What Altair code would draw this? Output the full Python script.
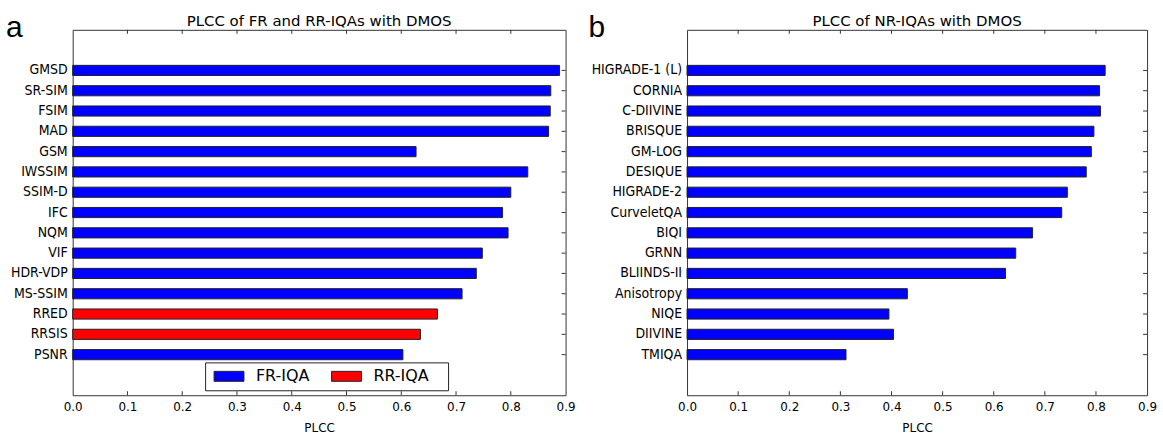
import altair as alt
import pandas as pd

fr_names = ["GMSD", "SR-SIM", "FSIM", "MAD", "GSM", "IWSSIM", "SSIM-D", "IFC",
            "NQM", "VIF", "HDR-VDP", "MS-SSIM", "RRED", "RRSIS", "PSNR"]
fr_vals = [0.889, 0.873, 0.872, 0.869, 0.627, 0.831, 0.800, 0.785,
           0.795, 0.748, 0.737, 0.711, 0.666, 0.635, 0.603]
fr_types = ["FR-IQA", "FR-IQA", "FR-IQA", "FR-IQA", "FR-IQA", "FR-IQA", "FR-IQA", "FR-IQA",
            "FR-IQA", "FR-IQA", "FR-IQA", "FR-IQA", "RR-IQA", "RR-IQA", "FR-IQA"]

nr_names = ["HIGRADE-1 (L)", "CORNIA", "C-DIIVINE", "BRISQUE", "GM-LOG", "DESIQUE",
            "HIGRADE-2", "CurveletQA", "BIQI", "GRNN", "BLIINDS-II", "Anisotropy",
            "NIQE", "DIIVINE", "TMIQA"]
nr_vals = [0.818, 0.807, 0.809, 0.796, 0.791, 0.781, 0.744, 0.733, 0.676,
           0.643, 0.623, 0.431, 0.395, 0.404, 0.311]

x_ticks = [0.0, 0.1, 0.2, 0.3, 0.4, 0.5, 0.6, 0.7, 0.8, 0.9]
inner_ticks = [0.1, 0.2, 0.3, 0.4, 0.5, 0.6, 0.7, 0.8]

H = 367
W1 = 495
W2 = 462
TICK_COLOR = "#333333"
LABEL_FONT = "Liberation Sans Narrow, DejaVu Sans Condensed, Liberation Sans"


def panel(names, vals, types, title, letter, width, letter_x, legend):
    n = len(names)
    df = pd.DataFrame({"name": names, "PLCC": vals, "type": types,
                       "pos": list(range(n))})
    df["lo"] = df["pos"] - 0.25
    df["hi"] = df["pos"] + 0.25
    tdf = pd.DataFrame({"t": inner_ticks})
    xscale = alt.Scale(domain=[0, 0.9], nice=False, zero=True)
    yscale = alt.Scale(domain=[-2, n + 1], nice=False, zero=False, reverse=True)
    xaxis = alt.Axis(values=x_ticks, format=".1f", ticks=False, domain=False, grid=False,
                     labelFont="DejaVu Sans", labelFontSize=12, labelColor="black",
                     labelPadding=6, labelFlush=False, title="PLCC", titleFont="DejaVu Sans",
                     titleFontSize=12, titleFontWeight="normal", titleColor="black",
                     titlePadding=10)
    if legend:
        color = alt.Color("type:N",
                          scale=alt.Scale(domain=["FR-IQA", "RR-IQA"], range=["#0000ff", "#ff0000"]),
                          legend=alt.Legend(orient="none", legendX=133, legendY=334,
                                            direction="horizontal",
                                            title="\u00a0", titleOrient="right",
                                            titlePadding=13, titleFontSize=8,
                                            titleColor="white",
                                            strokeColor="#222222", fillColor="white",
                                            padding=6, cornerRadius=0,
                                            symbolType="M-3,-1L3,-1L3,1L-3,1Z",
                                            symbolSize=100, symbolOffset=10,
                                            symbolStrokeColor="#222222",
                                            symbolStrokeWidth=1, symbolOpacity=1,
                                            labelFont="DejaVu Sans", labelFontSize=16,
                                            labelColor="black", labelOffset=19,
                                            columnPadding=19))
    else:
        color = alt.value("#0000ff")
    bars = alt.Chart(df).mark_bar(stroke="#222222", strokeWidth=1).encode(
        x=alt.X("PLCC:Q", scale=xscale, axis=xaxis),
        x2=alt.datum(0),
        y=alt.Y("lo:Q", scale=yscale, axis=None),
        y2="hi:Q",
        color=color,
    )
    ylabels = alt.Chart(df).mark_text(
        font=LABEL_FONT, fontSize=14, align="right", baseline="middle", color="black"
    ).encode(
        y=alt.Y("pos:Q", scale=yscale), x=alt.value(-5), text="name:N",
    )
    right_ticks = alt.Chart(df).mark_rule(color=TICK_COLOR, strokeWidth=1).encode(
        y=alt.Y("pos:Q", scale=yscale),
        x=alt.value(width - 4), x2=alt.value(width),
    )
    bot_ticks = alt.Chart(tdf).mark_rule(color=TICK_COLOR, strokeWidth=1).encode(
        x=alt.X("t:Q", scale=xscale), y=alt.value(H - 4), y2=alt.value(H),
    )
    top_ticks = alt.Chart(tdf).mark_rule(color=TICK_COLOR, strokeWidth=1).encode(
        x=alt.X("t:Q", scale=xscale), y=alt.value(0), y2=alt.value(4),
    )
    lab = alt.Chart(pd.DataFrame({"l": [letter]})).mark_text(
        font="Liberation Sans", fontSize=30, align="left", baseline="alphabetic", color="black"
    ).encode(text="l:N", x=alt.value(letter_x), y=alt.value(7))
    ttl = alt.Chart(pd.DataFrame({"l": [title]})).mark_text(
        font="DejaVu Sans", fontSize=15, align="center", baseline="alphabetic", color="black"
    ).encode(text="l:N", x=alt.value(width / 2), y=alt.value(-4))
    return alt.layer(bars, ylabels, right_ticks, bot_ticks, top_ticks, lab, ttl).properties(
        width=width, height=H,
    )


left = panel(fr_names, fr_vals, fr_types, "PLCC of FR and RR-IQAs with DMOS", "a", W1, -67, True)
right = panel(nr_names, nr_vals, ["NR-IQA"] * len(nr_names), "PLCC of NR-IQAs with DMOS", "b", W2, -99, False)

chart = alt.hconcat(left, right, spacing=122, bounds="flush").properties(
    padding={"left": 5, "top": 11, "right": 5, "bottom": 5},
    background="white",
).configure_view(stroke="#333333", strokeWidth=1).resolve_scale(color="independent")

chart.save("out.html", embed_options={"renderer": "svg", "actions": False})
